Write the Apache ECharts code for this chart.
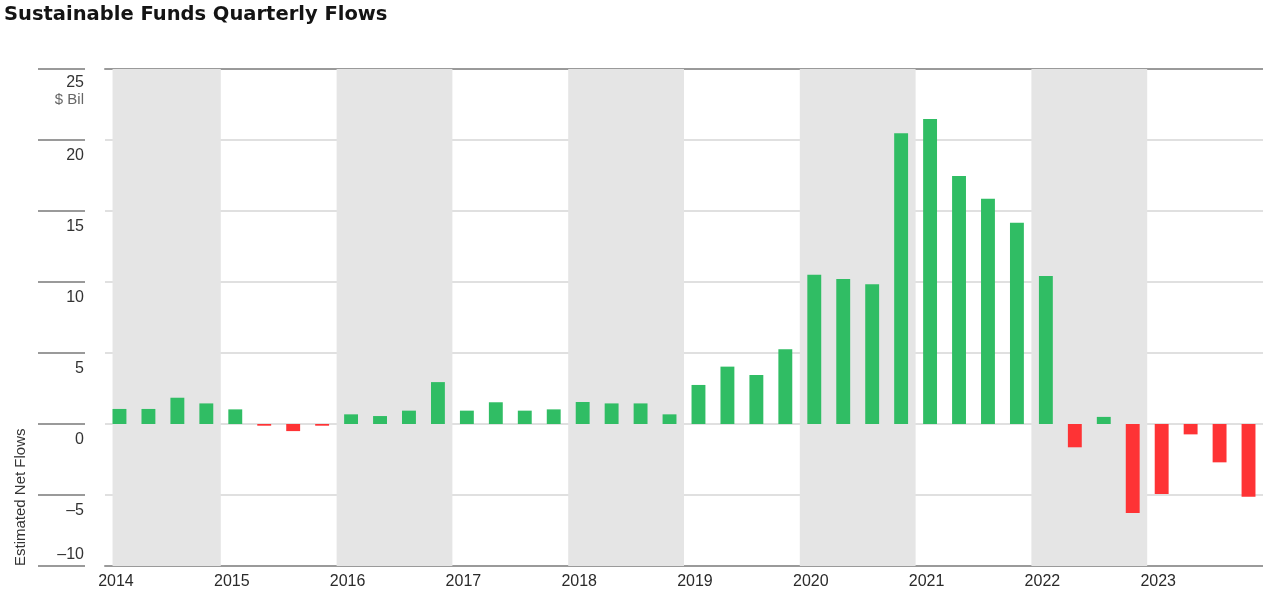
<!DOCTYPE html>
<html>
<head>
<meta charset="utf-8">
<script src="https://cdn.jsdelivr.net/npm/echarts@6/dist/echarts.min.js"></script>
<style>
html,body{margin:0;padding:0;background:#fff;}
#chart{width:1263px;height:592px;}
</style>
</head>
<body>
<div id="chart"></div>
<script>
// ---- data ----
const years = ['2014','2015','2016','2017','2018','2019','2020','2021','2022','2023'];
const quarters = ['Q1','Q2','Q3','Q4'];
const flows = [
  1.06, 1.06, 1.85, 1.45,    // 2014
  1.03, -0.12, -0.50, -0.12, // 2015
  0.68, 0.56, 0.94, 2.95,    // 2016
  0.94, 1.53, 0.94, 1.03,    // 2017
  1.55, 1.45, 1.45, 0.68,    // 2018
  2.75, 4.04, 3.45, 5.27,    // 2019
  10.51, 10.21, 9.84, 20.47, // 2020
  21.48, 17.46, 15.87, 14.18,// 2021
  10.42, -1.64, 0.50, -6.27, // 2022
  -4.93, -0.73, -2.70, -5.12 // 2023
];
const shadedYears = ['2014','2016','2018','2020','2022'];
const Y_MIN = -10, Y_MAX = 25, Y_STEP = 5;
const titleText = 'Sustainable Funds Quarterly Flows';
const unitText = '$ Bil';
const yName = 'Estimated Net Flows';

// ---- derived ----
const categories = [];
years.forEach(y => quarters.forEach(q => categories.push(y + ' ' + q)));
const BAR_FRAC = 0.48;
const bands = shadedYears.map((y) => {
  let s = years.indexOf(y) * 4;
  const e = s + 4;
  if (s === 0) s = 0.5 - BAR_FRAC / 2;
  return [{ xAxis: s }, { xAxis: e }];
});
const GREEN = '#30bd64', RED = '#fe3335';
const dash = v => (v < 0 ? '\u2013' + Math.abs(v) : String(v));
const FONT = '"Liberation Sans", Arial, sans-serif';

const chart = echarts.init(document.getElementById('chart'), null, { renderer: 'canvas' });
chart.setOption({
  animation: false,
  backgroundColor: '#fff',
  title: {
    text: titleText,
    left: 4, top: 5, padding: 0,
    textStyle: { fontFamily: '"DejaVu Sans", sans-serif', fontWeight: 'bold', fontSize: 19.5, color: '#141414' }
  },
  grid: { left: 105, right: 0, top: 69, bottom: 26, outerBoundsMode: 'none' },
  xAxis: [
    {
      type: 'category', data: categories, position: 'bottom', boundaryGap: true,
      axisLine: { onZero: false, lineStyle: { color: '#9a9a9a', width: 2 } },
      axisTick: { show: false },
      splitLine: { show: false },
      axisLabel: {
        interval: (i) => i % 4 === 0,
        formatter: (v) => v.split(' ')[0],
        color: '#2a2a2a', fontFamily: FONT, fontSize: 16, margin: 8,
        padding: [0, 7, 0, 0]
      }
    },
    {
      type: 'value', min: 0, max: categories.length, position: 'top',
      axisLine: { show: true, onZero: false, lineStyle: { color: '#9a9a9a', width: 2 } },
      axisTick: { show: false }, axisLabel: { show: false }, splitLine: { show: false }
    }
  ],
  yAxis: [
    {
      type: 'value', min: Y_MIN, max: Y_MAX, interval: Y_STEP, position: 'left',
      axisLine: { show: false, onZero: false }, axisTick: { show: false }, axisLabel: { show: false },
      splitLine: { show: true, showMinLine: false, showMaxLine: false, lineStyle: { color: '#d6d6d6', width: 1.5 } }
    },
    {
      type: 'value', min: Y_MIN, max: Y_MAX, interval: Y_STEP, position: 'left', offset: 20,
      axisLine: { show: false, onZero: false },
      axisTick: { show: true, length: 47, lineStyle: { color: '#9a9a9a', width: 2 } },
      splitLine: { show: false },
      axisLabel: {
        margin: 1, color: '#333', fontFamily: FONT, fontSize: 16,
        formatter: (v) => {
          if (v === Y_MAX) return '{sp| }\n{top|' + dash(v) + '}\n{unit|' + unitText + '}';
          if (v === Y_MIN) return '{low|' + dash(v) + '}';
          return '{n|' + dash(v) + '}';
        },
        rich: {
          n: { padding: [31, 0, 0, 0], lineHeight: 17, fontSize: 16, fontFamily: FONT, color: '#333' },
          low: { padding: [0, 0, 22, 0], lineHeight: 17, fontSize: 16, fontFamily: FONT, color: '#333' },
          sp: { lineHeight: 45, fontSize: 10 },
          top: { lineHeight: 17, fontSize: 16, fontFamily: FONT, color: '#333' },
          unit: { lineHeight: 17, fontSize: 15, fontFamily: FONT, color: '#666' }
        }
      }
    }
  ],
  graphic: [
    {
      type: 'text', x: 21, y: 566, rotation: Math.PI / 2,
      style: {
        text: yName, fill: '#333', fontSize: 15,
        fontFamily: '"Liberation Sans Narrow", "Liberation Sans", Arial, sans-serif',
        align: 'left', verticalAlign: 'middle'
      }
    }
  ],
  series: [
    {
      type: 'line', xAxisIndex: 1, yAxisIndex: 0, data: [], z: -1, silent: true,
      markArea: { silent: true, itemStyle: { color: '#e5e5e5' }, data: bands }
    },
    {
      type: 'bar', xAxisIndex: 0, yAxisIndex: 0, barWidth: (BAR_FRAC * 100) + '%',
      data: flows,
      itemStyle: { color: (p) => (p.value >= 0 ? GREEN : RED) }
    }
  ]
});
</script>
</body>
</html>
